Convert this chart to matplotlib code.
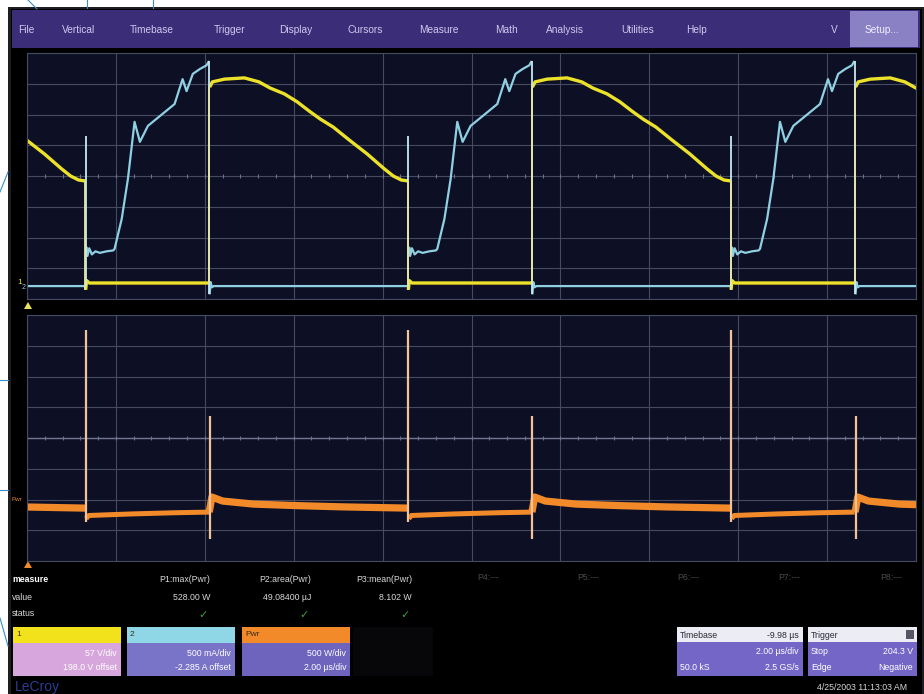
"""Recreation of a LeCroy scope screenshot: switch voltage, current and power"""

import numpy as np
import matplotlib.pyplot as plt
from matplotlib.patches import Rectangle, Polygon

plt.rcParams['font.family'] = ['Liberation Sans', 'DejaVu Sans']

W, H = 924, 694

# ---- values: time in µs (2 µs/div), amplitude in divisions ----
cycle_start = [-3.16, 4.10, 11.36, 18.63]   # turn-on instants of the switch

# C1 (yellow) voltage, per period (relative to turn-on)
yellow_hi_t = [0.01, 0.07, 0.34, 0.79, 1.12, 1.37, 1.69, 1.98, 2.25, 2.50,
               2.79, 3.15, 3.55, 3.94, 4.14, 4.32, 4.47]
yellow_hi_v = [2.89, 3.06, 3.15, 3.19, 3.06, 2.86, 2.67, 2.41, 2.11, 1.85,
               1.59, 1.17, 0.72, 0.23, 0.00, -0.13, -0.16]
yellow_lo_t = [4.48, 4.50, 4.56, 7.27]
yellow_lo_v = [-3.70, -3.40, -3.48, -3.48]
yellow_edge_t = [0.005, 4.475]
yellow_edge_lo = [-3.48, -3.70]
yellow_edge_hi = [2.89, -0.16]

# C2 (cyan) current, per period (relative to turn-on)
cyan_lo_t = [0.01, 0.03, 0.06, 0.10, 4.47]
cyan_lo_v = [-3.85, -3.45, -3.62, -3.58, -3.58]
cyan_hi_t = [4.50, 4.52, 4.56, 4.62, 4.70, 4.80, 4.95, 5.10, 5.13, 5.29, 5.43,
             5.58, 5.70, 5.88, 6.48, 6.66, 6.75, 6.89, 7.05, 7.20, 7.255]
cyan_hi_v = [-2.30, -2.60, -2.35, -2.55, -2.45, -2.50, -2.45, -2.42, -2.37, -1.40, -0.10,
             1.76, 1.11, 1.63, 2.34, 3.15, 2.76, 3.32, 3.48, 3.60, 3.74]
cyan_edge_t = [0.005, 4.48]
cyan_edge_lo = [-3.85, -3.58]
cyan_edge_hi = [3.74, 1.30]

# Pwr (orange) math trace: on-state and off-state bands, plus the switching spikes
pwr_on_t = [0.00, 0.06, 0.30, 1.00, 2.00, 3.00, 4.47]
pwr_on_v = [-2.41, -1.92, -2.05, -2.15, -2.20, -2.24, -2.28]
pwr_off_t = [4.49, 4.55, 5.50, 6.50, 7.26]
pwr_off_v = [-2.62, -2.52, -2.47, -2.43, -2.41]
spike_t = [0.01, 4.48]          # turn-on, turn-off (relative to cycle start)
spike_top = [0.72, 3.51]
spike_bot = [-3.30, -2.72]

menu_items = ["File", "Vertical", "Timebase", "Trigger", "Display", "Cursors",
              "Measure", "Math", "Analysis", "Utilities", "Help"]
meas_names = ["P1:max(Pwr)", "P2:area(Pwr)", "P3:mean(Pwr)"]
meas_values = ["528.00 W", "49.08400 µJ", "8.102 W"]
meas_empty = ["P4:---", "P5:---", "P6:---", "P7:---", "P8:---"]


def tile(starts, t, v):
    """repeat one period's points at every cycle start, NaN-separated"""
    ts, vs = [], []
    for s in starts:
        ts.extend(list(s + np.asarray(t)) + [np.nan])
        vs.extend(list(v) + [np.nan])
    return ts, vs


def px_axes(fig, x0, y0, x1, y1):
    return fig.add_axes([x0 / W, 1 - y1 / H, (x1 - x0) / W, (y1 - y0) / H])


fig = plt.figure(figsize=(W / 100, H / 100), dpi=100)
fig.patch.set_facecolor('white')

ui = fig.add_axes([0, 0, 1, 1], zorder=0)
ui.set_xlim(0, W)
ui.set_ylim(H, 0)
ui.axis('off')


def box(x0, y0, x1, y1, fc):
    ui.add_patch(Rectangle((x0, y0), x1 - x0, y1 - y0, fc=fc, ec='none'))


# screen frame, menu bar
box(8, 7, W, H, '#1e1e22')
box(11, 9, W - 2, H, '#000000')
box(12, 10, 920, 48, '#3b2d77')
box(850, 11, 918, 47, '#8a80c4')
menu_x = [18, 62, 130, 214, 279, 348, 419, 495, 546, 621, 686]
for x, lab in zip(menu_x, menu_items):
    ui.text(x, 30, lab, color='#cfc8f0', fontsize=7.3, va='center')
ui.text(831, 30, "V", color='#cfc8f0', fontsize=7.3, va='center')
ui.text(865, 30, "Setup...", color='#f2f0ff', fontsize=7.3, va='center')

# magazine leader lines in the white margin
lead = '#3a8cc8'
ui.plot([28, 37], [0, 9], color=lead, lw=0.8)
ui.plot([87, 87], [0, 8], color=lead, lw=0.8)
ui.plot([153, 153], [0, 8], color=lead, lw=0.8)
ui.plot([0, 8], [192, 172], color=lead, lw=0.8)
ui.plot([0, 8], [380, 380], color=lead, lw=0.8)
ui.plot([0, 8], [490, 490], color=lead, lw=0.8)
ui.plot([0, 8], [618, 646], color=lead, lw=0.8)

# ---- the two grids ----
grid_c = '#464a60'
axes = []
for y0, y1 in [(53, 299), (315, 561)]:
    ax = px_axes(fig, 27, y0, 916, y1)
    ax.set_zorder(1)
    ax.set_facecolor('#0d0f24')
    ax.set_xlim(0, 20)
    ax.set_ylim(-4, 4)
    ax.set_xticks(np.arange(0, 20.1, 2))
    ax.set_yticks(np.arange(-4, 4.1, 1))
    ax.grid(color=grid_c, lw=0.8)
    ax.tick_params(length=0, labelleft=False, labelbottom=False)
    for s in ax.spines.values():
        s.set_color(grid_c)
    ax.plot(np.arange(0, 20.01, 0.4), np.zeros(51), '|', ms=3, color='#6c7090', mew=0.8)
    axes.append(ax)
ax_top, ax_bot = axes
ax_bot.axhline(0, color='#70748e', lw=1.0)

# upper panel: current and voltage
for t, v, col, lw in [(cyan_lo_t, cyan_lo_v, '#8fd0e2', 1.6),
                      (cyan_hi_t, cyan_hi_v, '#8fd0e2', 1.6),
                      (yellow_lo_t, yellow_lo_v, '#ece22a', 2.4),
                      (yellow_hi_t, yellow_hi_v, '#ece22a', 2.4)]:
    tt, vv = tile(cycle_start, t, v)
    ax_top.plot(tt, vv, color=col, lw=lw, solid_capstyle='butt')
for et, lo, hi, col in [(cyan_edge_t, cyan_edge_lo, cyan_edge_hi, '#c6eaf2'),
                        (yellow_edge_t, yellow_edge_lo, yellow_edge_hi, '#e6e6a0')]:
    tt, ll = tile(cycle_start, et, lo)
    _, hh = tile(cycle_start, et, hi)
    ax_top.vlines(tt, ll, hh, color=col, lw=1.3)

# lower panel: power
for t, v, lw in [(pwr_on_t, pwr_on_v, 5.2), (pwr_off_t, pwr_off_v, 3.6)]:
    tt, vv = tile(cycle_start, t, v)
    ax_bot.plot(tt, vv, color='#f28a2a', lw=lw, solid_capstyle='butt')
st, stop = tile(cycle_start, spike_t, spike_top)
_, sbot = tile(cycle_start, spike_t, spike_bot)
ax_bot.vlines(st, sbot, stop, color='#f3c29a', lw=1.6)

# channel markers at the left edge
ui.text(17, 282, "1", color='#ece22a', fontsize=6, va='center')
ui.text(22, 287, "2", color='#8fd0e2', fontsize=5, va='center')
ui.text(11, 499, "Pwr", color='#f28a2a', fontsize=4.5, va='center')
ui.add_patch(Polygon([[24, 309], [32, 309], [28, 302]], fc='#e8e060', ec='none'))
ui.add_patch(Polygon([[24, 568], [32, 568], [28, 561]], fc='#f28a2a', ec='none'))

# ---- measurement table ----
ui.text(12, 580, "measure", color='white', fontsize=6.3, weight='bold', va='center')
ui.text(12, 597, "value", color='#d8d8d8', fontsize=6.3, va='center')
ui.text(12, 614, "status", color='#d8d8d8', fontsize=6.3, va='center')
for x, name, val in zip([210, 311, 412], meas_names, meas_values):
    ui.text(x, 580, name, color='#d8d8d8', fontsize=6.3, ha='right', va='center')
    ui.text(x, 597, val, color='#d8d8d8', fontsize=6.3, ha='right', va='center')
    ui.text(x - 7, 615, "✓", color='#3f9a3f', fontsize=8, ha='center', va='center')
for x, name in zip([477, 577, 677, 778, 880], meas_empty):
    ui.text(x, 578, name, color='#4a4a4a', fontsize=6.3, va='center')

# ---- channel descriptor boxes ----
chan = [(13, 121, '#f2e21c', '#d7a6dc', "1", "57 V/div", "198.0 V offset"),
        (127, 235, '#8fd6e6', '#7a74c8', "2", "500 mA/div", "-2.285 A offset"),
        (242, 350, '#f28a2a', '#6e64be', "Pwr", "500 W/div", "2.00 µs/div")]
for x0, x1, hc, bc, lab, l1, l2 in chan:
    box(x0, 627, x1, 643, hc)
    box(x0, 643, x1, 676, bc)
    ui.text(x0 + 3, 635, lab, color='#3a2a10', fontsize=6, va='center')
    ui.text(x1 - 4, 653, l1, color='white', fontsize=6.3, ha='right', va='center')
    ui.text(x1 - 4, 668, l2, color='white', fontsize=6.3, ha='right', va='center')
box(353, 627, 433, 676, '#070709')

for x0, x1, head, hr, r2, r3 in [
        (677, 803, "Timebase", "-9.98 µs", ("", "2.00 µs/div"), ("50.0 kS", "2.5 GS/s")),
        (808, 917, "Trigger", "", ("Stop", "204.3 V"), ("Edge", "Negative"))]:
    box(x0, 627, x1, 642, '#ececf4')
    box(x0, 642, x1, 676, '#7366c6')
    ui.text(x0 + 3, 635, head, color='#2a2a3a', fontsize=6.3, va='center')
    ui.text(x1 - 4, 635, hr, color='#2a2a3a', fontsize=6.3, ha='right', va='center')
    for y, (a, b) in [(652, r2), (667, r3)]:
        ui.text(x0 + 3, y, a, color='white', fontsize=6.3, va='center')
        ui.text(x1 - 4, y, b, color='white', fontsize=6.3, ha='right', va='center')
box(906, 630, 914, 639, '#555566')

ui.text(15, 687, "LeCroy", color='#2b3c92', fontsize=10, va='center')
ui.text(907, 687, "4/25/2003 11:13:03 AM", color='#d8d8d8', fontsize=6.3, ha='right', va='center')

fig.savefig('out.png', dpi=100)
